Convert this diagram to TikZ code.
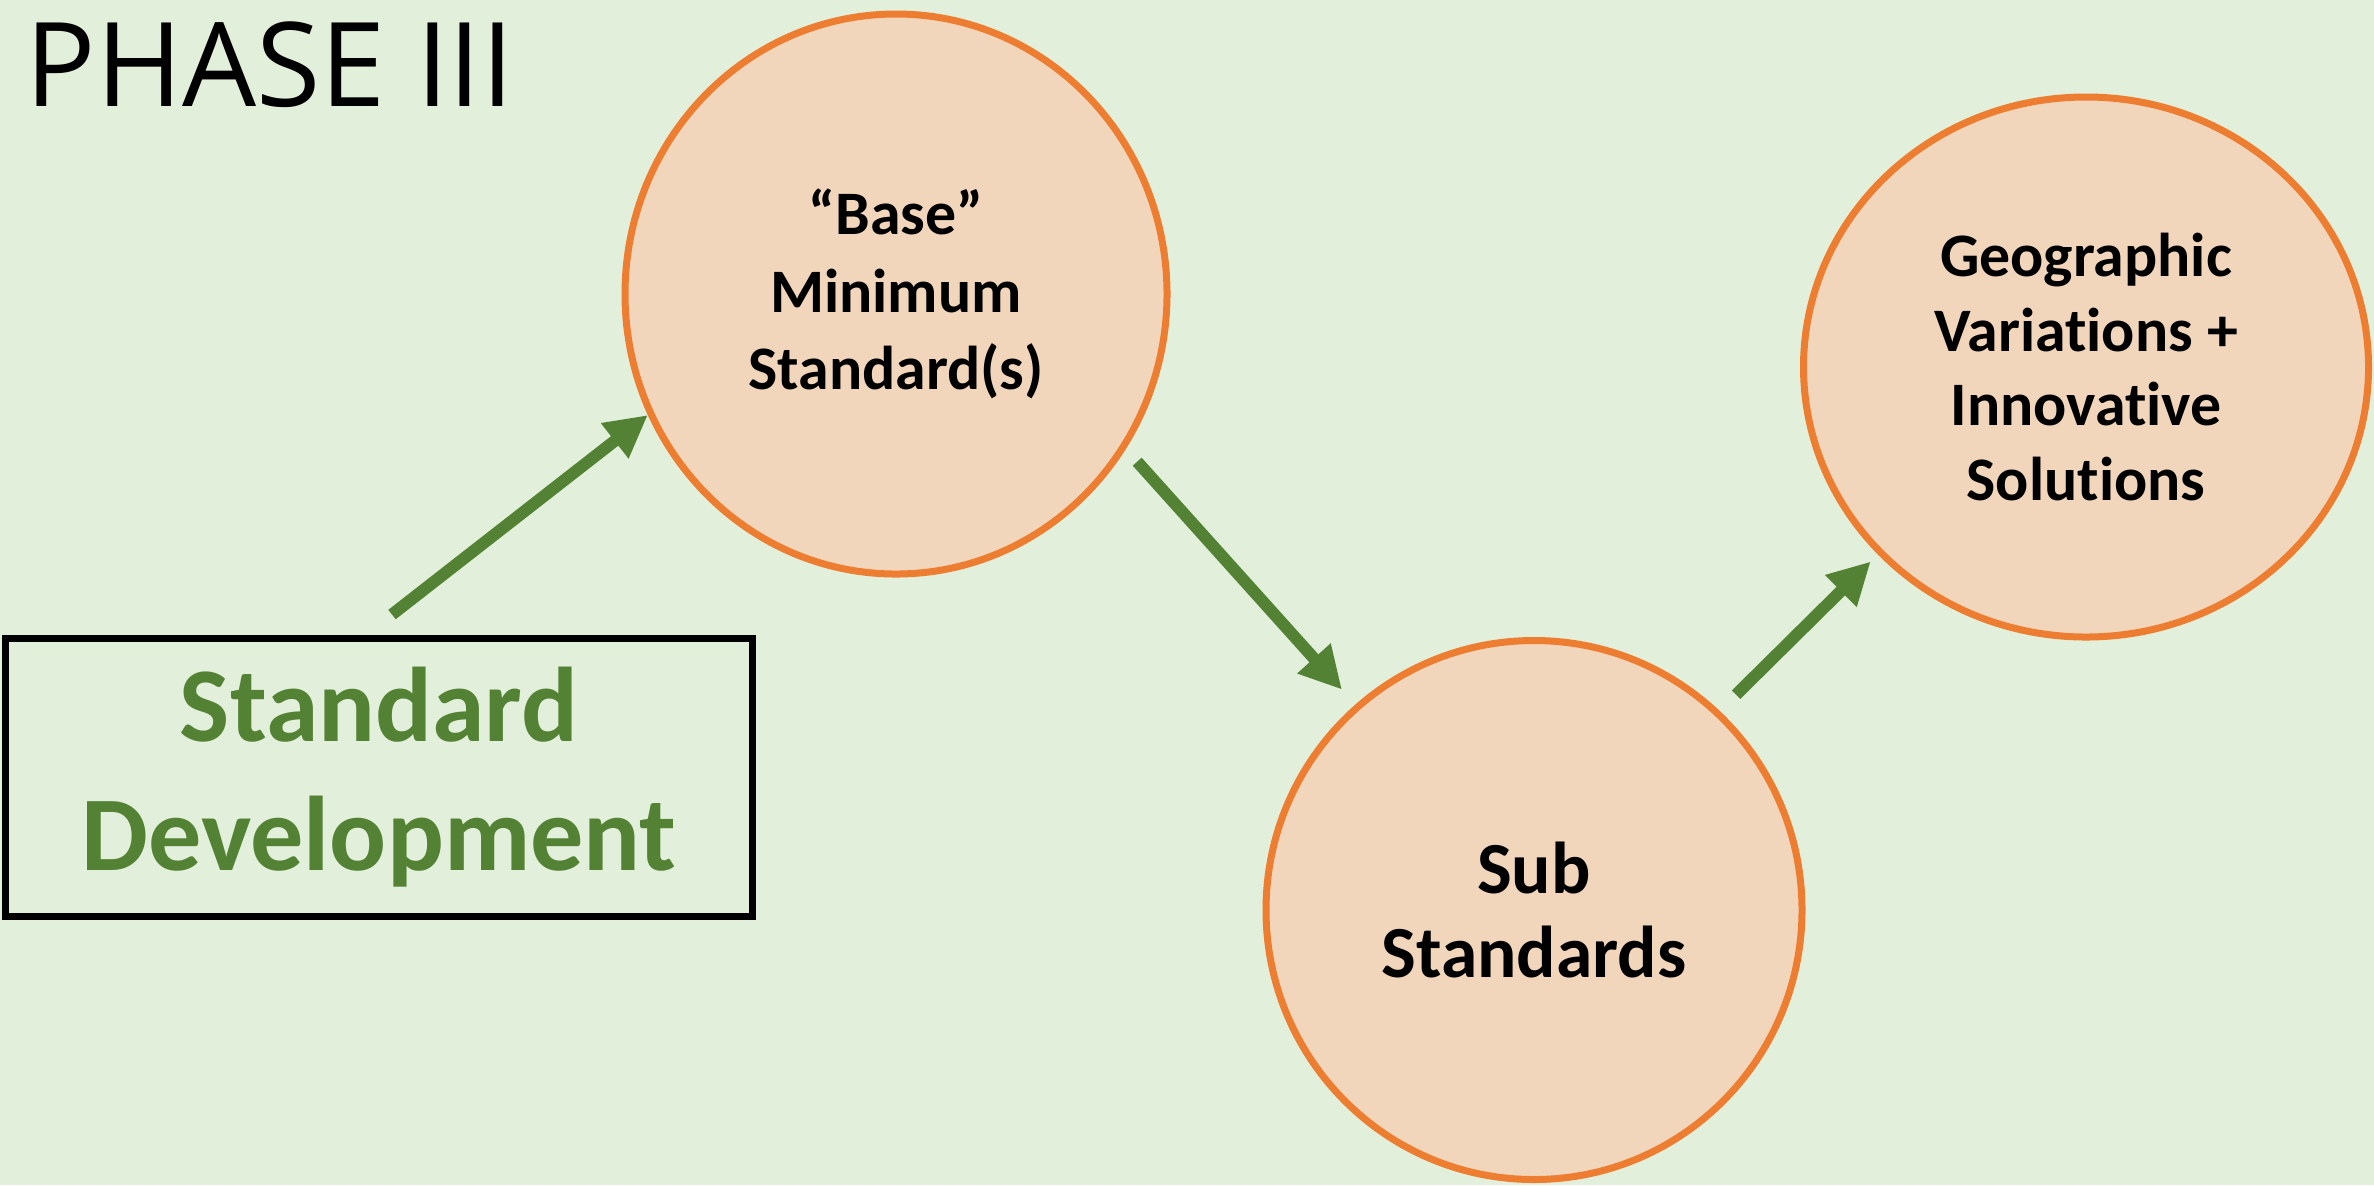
\documentclass[tikz,border=0pt]{standalone}
\usepackage{fontspec}
\setmainfont[Ligatures={TeX,NoCommon}]{Carlito}
\newfontfamily\titlefont{Open Sans}
\usepackage{xcolor}
\usepackage{tikz}
\usetikzlibrary{shapes.geometric, arrows.meta, positioning}
\definecolor{bggreen}{RGB}{226,239,218}
\definecolor{leafgreen}{RGB}{84,130,53}
\definecolor{peach}{RGB}{242,214,187}
\definecolor{orangeline}{RGB}{237,125,49}

\begin{document}
\begin{tikzpicture}
  [
    Bubble/.style={ellipse, draw=orangeline, fill=peach, line width=0.07cm, inner sep=0pt, align=center, font=\bfseries\fontsize{17.6}{22}\selectfont},
    Frame/.style={rectangle, draw=black, line width=0.07cm, minimum width=7.46cm, minimum height=2.78cm, align=center, text=leafgreen, font=\bfseries\fontsize{30.2}{36.7}\selectfont},
    Flow/.style={-{Triangle[length=0.42cm, width=0.42cm]}, color=leafgreen, line width=0.12cm}
  ]
  % Background
  \fill[bggreen] (0,0) rectangle (23.74,-11.85);
  \useasboundingbox (0,0) rectangle (23.74,-11.85);
  % Nodes
  \node[anchor=base west, inner sep=0pt, font=\titlefont\fontsize{33.3}{40}\selectfont] (title) at (0.25,-1.06) {PHASE III};
  \node[Frame] (box) at (3.79,-7.77) {Standard\\Development};
  \node[Bubble, minimum width=5.42cm, minimum height=5.60cm] (base) at (8.96,-2.94) {“Base”\\Minimum\\Standard(s)};
  \node[Bubble, minimum width=5.36cm, minimum height=5.39cm, font=\bfseries\fontsize{20.9}{23.9}\selectfont] (sub) at (15.34,-9.10) {Sub\\Standards};
  \node[Bubble, minimum width=5.65cm, minimum height=5.40cm, font=\bfseries\fontsize{17.6}{21.3}\selectfont] (geo) at (20.86,-3.67) {Geographic\\Variations +\\Innovative\\Solutions};
  % Lines
  \path [Flow, draw] ([xshift=0.13cm, yshift=0.2cm]box.north) -- (base.206);
  \path [Flow, draw, shorten <=0.17cm, shorten >=0.20cm] (base.-34) -- (sub.131);
  \path [Flow, draw, shorten <=0.23cm, shorten >=0.10cm] (sub.47) -- (geo.222);
\end{tikzpicture}
\end{document}
